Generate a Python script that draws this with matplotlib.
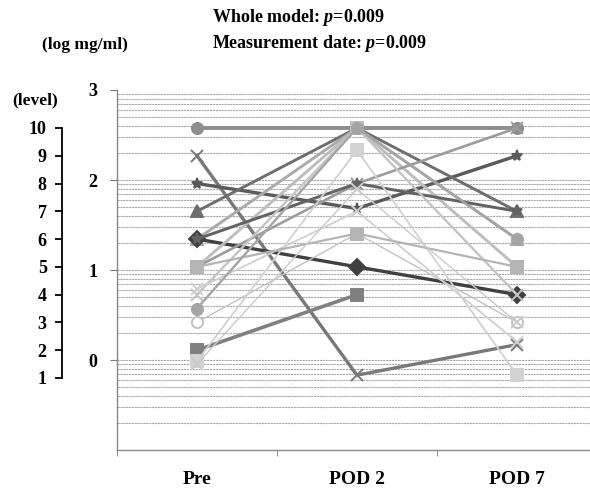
import numpy as np
import matplotlib
matplotlib.use("Agg")
import matplotlib.pyplot as plt

plt.rcParams['font.family'] = ['Liberation Serif', 'DejaVu Serif']
plt.rcParams['font.weight'] = 'bold'
plt.rcParams['mathtext.fontset'] = 'custom'
plt.rcParams['mathtext.rm'] = 'Liberation Serif:bold'
plt.rcParams['mathtext.it'] = 'Liberation Serif:italic:bold'

# --- データ (レベル値で読み取り) ---
categories = ['Pre', 'POD 2', 'POD 7']
level_ticks = [1, 2, 3, 4, 5, 6, 7, 8, 9, 10]
log_ticks = [0, 1, 2, 3]

pre  = [10, 9,   8,   7,  6,  6,  5,  5,  6,  4,  3,   2,  1.6, 4.2, 5,   3.5, 1.5]
pod2 = [10, 1.1, 7.1, 10, 10, 5,  10, 8,  8,  10, 6.2, 4,  9.2, 7,   6.2, 10,  7.8]
pod7 = [10, 2.2, 9,   7,  6,  4,  5,  10, 7,  4,  3,   np.nan, 1.1, 2.3, 5, 6, 3]

markers = ['o', 'x', '*', '^', '^', 'D', 's', 'x', '*', 'x', 'o', 's', 's', 'x', 's', 'o', 'x']
colors = ['#8e8e8e', '#787878', '#5a5a5a', '#6e6e6e', '#aaaaaa', '#404040', '#bdbdbd',
          '#9c9c9c', '#626262', '#c4c4c4', '#c2c2c2', '#808080', '#d2d2d2', '#d0d0d0',
          '#b4b4b4', '#a4a4a4', '#cacaca']
widths = [2.8, 2.4, 2.4, 2.1, 2.1, 2.4, 2.1, 1.9, 2.1, 1.7, 1.0, 2.6, 1.3, 1.3, 1.6, 1.7, 1.0]


def lv2log(lv):
    # レベル目盛りと log 軸の対応
    return 2.578 - (10 - np.asarray(lv, dtype=float)) * 0.3086


fig = plt.figure(figsize=(5.9, 4.9), dpi=100)
ax = fig.add_axes([117 / 590, 40 / 490, 480 / 590, 360 / 490])
ax.set_xlim(-0.5, 2.5)
ax.set_ylim(-1, 3)

# 対数目盛りの補助線
for n in range(-1, 3):
    for k in range(1, 10):
        y = n + np.log10(k)
        if y > -1:
            ax.axhline(y, color='#aaaaaa', lw=0.8, ls=(0, (2, 0.6)), zorder=0)

x = np.arange(len(categories))
for i in range(len(pre)):
    vals = lv2log([pre[i], pod2[i], pod7[i]])
    face = 'white' if i == 10 else colors[i]
    ax.plot(x, vals, color=colors[i], lw=widths[i], marker=markers[i], markersize=8,
            markerfacecolor=face, markeredgecolor=colors[i], markeredgewidth=1.4, zorder=3)

ax.set_yticks(log_ticks)
ax.set_yticklabels([str(v) for v in log_ticks], fontsize=13, fontweight='bold')
ax.set_xticks(x)
ax.set_xticklabels(categories, fontsize=14, fontweight='bold')
ax.set_xticks([-0.5, 0.5, 1.5], minor=True)
ax.tick_params(axis='x', which='major', length=0, pad=15)
ax.tick_params(axis='x', which='minor', length=4, color='#777777')
ax.tick_params(axis='y', length=5, color='#777777', pad=9)
for s in ['top', 'right']:
    ax.spines[s].set_visible(False)
for s in ['left', 'bottom']:
    ax.spines[s].set_color('#888888')
    ax.spines[s].set_linewidth(1.0)

# レベル軸
ax_lv = fig.add_axes([62 / 590, 40 / 490, 0.001, 360 / 490])
ax_lv.set_ylim(-1, 3)
ax_lv.set_xticks([])
for s in ['top', 'right', 'bottom']:
    ax_lv.spines[s].set_visible(False)
ax_lv.spines['left'].set_bounds(lv2log(1), lv2log(10))
ax_lv.spines['left'].set_linewidth(1.3)
ax_lv.set_yticks(lv2log(level_ticks))
ax_lv.set_yticklabels([str(v) for v in level_ticks], fontsize=13, fontweight='bold')
ax_lv.tick_params(axis='y', length=5, width=1.3, pad=6)
ax_lv.patch.set_visible(False)

fig.text(85 / 590, 1 - 45 / 490, '(log mg/ml)', ha='center', va='center', fontsize=12.5)
fig.text(35 / 590, 1 - 100 / 490, '(level)', ha='center', va='center', fontsize=12.5)
fig.text(212 / 590, 1 - 17 / 490, 'Whole model: $p$=0.009', ha='left', va='center', fontsize=13)
fig.text(212 / 590, 1 - 43 / 490, 'Measurement date: $p$=0.009', ha='left', va='center', fontsize=13)

fig.savefig('out.png', dpi=100)
